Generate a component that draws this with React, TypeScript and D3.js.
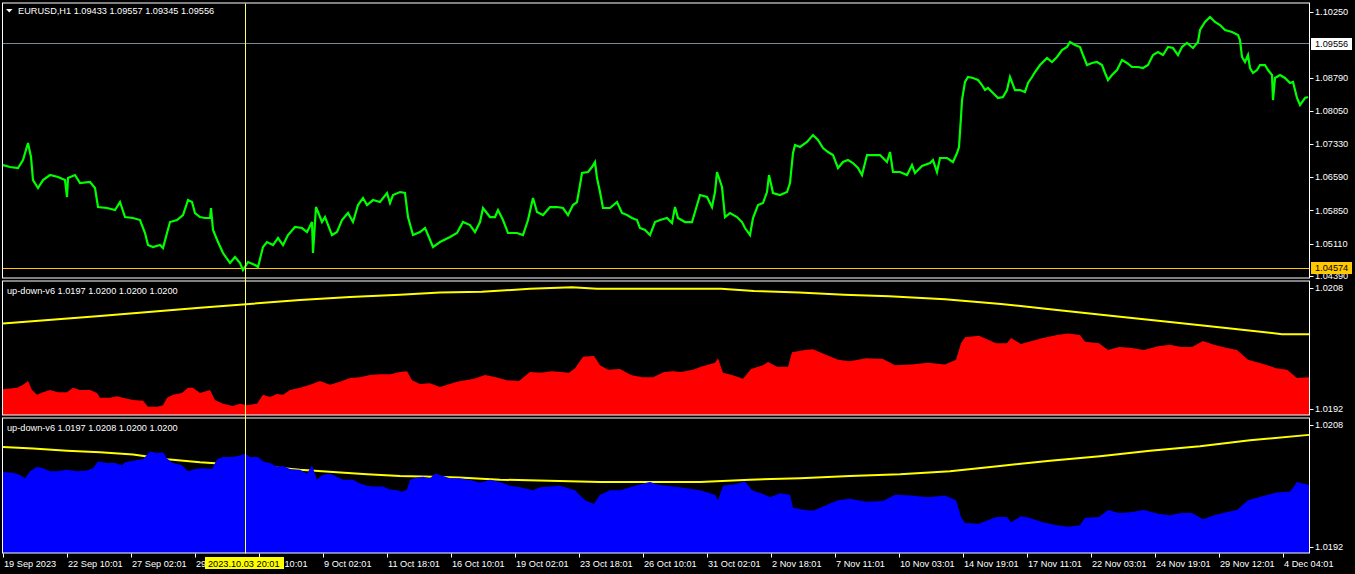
import React from "react";
import * as d3 from "d3";

// ---------- data ----------
const symbolTitle = "EURUSD,H1  1.09433 1.09557 1.09345 1.09556";
const indTitle1 = "up-down-v6 1.0197 1.0200 1.0200 1.0200";
const indTitle2 = "up-down-v6 1.0197 1.0208 1.0200 1.0200";

const priceTicks = ["1.10250", "1.08790", "1.08050", "1.07330", "1.06590", "1.05850", "1.05110", "1.04390"];
const indTicks = ["1.0208", "1.0192"];
const bidPrice = 1.09556;
const levelPrice = 1.04574;

const timeLabels = [
  "19 Sep 2023", "22 Sep 10:01", "27 Sep 02:01", "29 Sep 18:01", "4 Oct 10:01", "9 Oct 02:01",
  "11 Oct 18:01", "16 Oct 10:01", "19 Oct 02:01", "23 Oct 18:01", "26 Oct 10:01", "31 Oct 02:01",
  "2 Nov 18:01", "7 Nov 11:01", "10 Nov 03:01", "14 Nov 19:01", "17 Nov 11:01", "22 Nov 03:01",
  "24 Nov 19:01", "29 Nov 12:01", "4 Dec 04:01",
];
const barsPerLabel = 64;
const totalBars = 1306;
const crossBar = 242;
const crossLabel = "2023.10.03 20:01";

// [bar index, close]
const price: [number, number][] = [
  [0, 1.06853], [7, 1.06809], [15, 1.06787], [20, 1.06964], [25, 1.07342], [28, 1.07031], [30, 1.0652],
  [35, 1.06343], [40, 1.0652], [47, 1.06631], [55, 1.06587], [62, 1.0652], [64, 1.06143], [65, 1.06565],
  [72, 1.06631], [77, 1.06454], [87, 1.06476], [92, 1.06343], [95, 1.05921], [104, 1.05899], [112, 1.05854],
  [117, 1.06032], [122, 1.05699], [130, 1.05677], [137, 1.05632], [142, 1.05344], [145, 1.05077], [150, 1.05033],
  [157, 1.05077], [160, 1.05011], [164, 1.05344], [167, 1.05588], [174, 1.05632], [180, 1.05743], [185, 1.06076],
  [189, 1.06032], [192, 1.05788], [197, 1.05699], [202, 1.05677], [207, 1.05677], [208, 1.05899], [210, 1.0541],
  [215, 1.05144], [220, 1.049], [227, 1.04678], [232, 1.04811], [237, 1.04678], [240, 1.04522], [245, 1.047],
  [252, 1.04633], [255, 1.04589], [260, 1.05033], [264, 1.05144], [270, 1.05077], [275, 1.05233], [280, 1.05077],
  [285, 1.05299], [292, 1.05477], [299, 1.05455], [304, 1.05366], [309, 1.05588], [310, 1.049], [313, 1.05921],
  [319, 1.05588], [322, 1.05699], [329, 1.05299], [334, 1.05366], [339, 1.05632], [345, 1.05788], [350, 1.05588],
  [355, 1.05965], [360, 1.06121], [364, 1.05965], [370, 1.06076], [377, 1.06032], [384, 1.06232], [387, 1.0601],
  [390, 1.06187], [397, 1.06254], [402, 1.06232], [405, 1.05699], [410, 1.05299], [417, 1.05366], [422, 1.05455],
  [425, 1.05299], [430, 1.05033], [437, 1.05144], [447, 1.05255], [454, 1.05344], [460, 1.05588], [467, 1.05521],
  [472, 1.05366], [477, 1.05588], [480, 1.05899], [487, 1.05699], [492, 1.05699], [495, 1.05854], [500, 1.05632],
  [505, 1.05344], [514, 1.05344], [520, 1.05299], [525, 1.05632], [530, 1.06121], [534, 1.0581], [540, 1.05743],
  [547, 1.05921], [554, 1.05921], [560, 1.05899], [565, 1.05743], [570, 1.05965], [574, 1.06032], [577, 1.06409],
  [579, 1.06676], [585, 1.06698], [589, 1.06809], [592, 1.0692], [594, 1.06565], [597, 1.06254], [600, 1.05899],
  [607, 1.05899], [614, 1.06032], [619, 1.05788], [624, 1.05743], [629, 1.05677], [634, 1.05632], [637, 1.05455],
  [642, 1.0541], [647, 1.05299], [652, 1.05588], [657, 1.05632], [664, 1.05677], [669, 1.05566], [672, 1.05921],
  [675, 1.05677], [682, 1.05588], [689, 1.05588], [692, 1.0581], [697, 1.06187], [704, 1.06143], [709, 1.05921],
  [712, 1.06254], [714, 1.06698], [719, 1.06365], [722, 1.05699], [727, 1.05788], [734, 1.05699], [739, 1.05588],
  [742, 1.05455], [747, 1.05299], [750, 1.05677], [755, 1.05965], [760, 1.0601], [764, 1.06254], [766, 1.06631],
  [770, 1.06232], [777, 1.06187], [784, 1.06254], [787, 1.06454], [790, 1.0712], [792, 1.07297], [797, 1.07253],
  [804, 1.07364], [810, 1.07519], [815, 1.07408], [820, 1.07231], [825, 1.07142], [830, 1.07075], [835, 1.06787],
  [840, 1.0692], [845, 1.06964], [850, 1.06898], [855, 1.06787], [859, 1.06631], [864, 1.07075], [870, 1.07075],
  [877, 1.07075], [884, 1.0692], [887, 1.07142], [890, 1.06698], [897, 1.06698], [904, 1.06631], [909, 1.06853],
  [912, 1.06676], [919, 1.06831], [927, 1.06898], [930, 1.06964], [934, 1.06698], [937, 1.07009], [944, 1.07009],
  [950, 1.0692], [954, 1.0712], [956, 1.07253], [958, 1.07919], [959, 1.08296], [962, 1.08696], [965, 1.08807],
  [970, 1.08785], [975, 1.0874], [979, 1.08629], [982, 1.08518], [985, 1.08563], [990, 1.08452], [995, 1.08341],
  [1000, 1.08363], [1004, 1.08518], [1007, 1.08807], [1012, 1.08518], [1017, 1.08518], [1022, 1.08474],
  [1025, 1.08674], [1029, 1.08807], [1032, 1.08918], [1037, 1.09073], [1044, 1.09229], [1049, 1.0914],
  [1054, 1.09251], [1059, 1.09406], [1064, 1.09473], [1067, 1.09584], [1072, 1.09517], [1077, 1.09473],
  [1080, 1.09295], [1084, 1.09073], [1089, 1.09118], [1094, 1.0914], [1099, 1.09073], [1102, 1.08896],
  [1105, 1.0874], [1109, 1.08851], [1114, 1.08962], [1119, 1.09184], [1124, 1.09118], [1129, 1.09029],
  [1135, 1.09029], [1140, 1.09007], [1145, 1.09073], [1150, 1.09295], [1155, 1.09362], [1160, 1.09295],
  [1165, 1.09473], [1170, 1.09451], [1175, 1.09295], [1179, 1.09473], [1184, 1.09562], [1190, 1.09451],
  [1195, 1.09584], [1197, 1.0985], [1202, 1.10028], [1207, 1.10139], [1212, 1.10028], [1217, 1.09961],
  [1222, 1.0985], [1229, 1.09806], [1235, 1.09739], [1237, 1.09628], [1239, 1.09251], [1242, 1.0914],
  [1245, 1.09295], [1247, 1.09007], [1250, 1.08896], [1254, 1.08962], [1257, 1.09073], [1262, 1.09073],
  [1265, 1.08962], [1269, 1.08851], [1270, 1.08296], [1272, 1.08785], [1277, 1.08851], [1282, 1.08785],
  [1287, 1.08674], [1290, 1.08696], [1294, 1.08341], [1297, 1.08185], [1302, 1.08341], [1305, 1.08363],
];

const upHist: [number, number][] = [
  [0, 1.01946], [14, 1.01948], [20, 1.01952], [25, 1.01957], [29, 1.01945], [34, 1.01939], [40, 1.01942],
  [47, 1.01945], [55, 1.01942], [64, 1.01942], [70, 1.01948], [77, 1.01945], [87, 1.01945], [94, 1.01941],
  [97, 1.01935], [107, 1.01935], [114, 1.01937], [120, 1.01935], [130, 1.01932], [140, 1.01931], [145, 1.01923],
  [154, 1.01923], [160, 1.01925], [164, 1.01935], [170, 1.01939], [179, 1.01941], [185, 1.01948], [190, 1.01948],
  [197, 1.01941], [207, 1.01945], [212, 1.01932], [220, 1.01927], [230, 1.01924], [237, 1.01927], [244, 1.01925],
  [254, 1.01927], [260, 1.01939], [267, 1.01936], [274, 1.0194], [280, 1.01939], [287, 1.01945], [297, 1.01948],
  [307, 1.01952], [317, 1.01957], [327, 1.01952], [337, 1.01956], [347, 1.01961], [357, 1.01962], [367, 1.01965],
  [377, 1.01966], [387, 1.01966], [397, 1.01969], [404, 1.0197], [409, 1.01958], [417, 1.01953], [427, 1.01954],
  [437, 1.01949], [454, 1.01956], [471, 1.0196], [482, 1.01965], [493, 1.01962], [504, 1.01958], [516, 1.01957],
  [527, 1.01969], [538, 1.01968], [549, 1.0197], [566, 1.01968], [572, 1.01974], [580, 1.01989], [591, 1.0199],
  [597, 1.01978], [605, 1.01972], [617, 1.01973], [628, 1.01965], [639, 1.01962], [650, 1.01962], [661, 1.01969],
  [670, 1.0197], [678, 1.01969], [690, 1.01972], [698, 1.01976], [712, 1.01981], [715, 1.01987], [720, 1.01968],
  [729, 1.01965], [740, 1.0196], [748, 1.01973], [760, 1.01978], [765, 1.01982], [774, 1.01976], [785, 1.01976],
  [789, 1.01995], [802, 1.01998], [810, 1.01999], [824, 1.01991], [835, 1.01985], [847, 1.01983], [863, 1.01987],
  [880, 1.01986], [892, 1.01978], [908, 1.01979], [925, 1.01981], [942, 1.01979], [953, 1.01985], [958, 1.02007],
  [962, 1.02015], [976, 1.02017], [993, 1.02007], [1004, 1.02007], [1008, 1.02014], [1018, 1.02006],
  [1026, 1.02009], [1040, 1.02014], [1054, 1.02018], [1065, 1.0202], [1077, 1.02018], [1082, 1.02009],
  [1096, 1.02007], [1105, 1.01998], [1116, 1.02002], [1127, 1.02001], [1141, 1.01998], [1155, 1.02003],
  [1167, 1.02005], [1178, 1.02002], [1189, 1.02002], [1200, 1.0201], [1211, 1.02005], [1223, 1.02001],
  [1234, 1.01998], [1245, 1.01985], [1262, 1.01979], [1273, 1.01974], [1284, 1.01972], [1294, 1.01961],
  [1306, 1.01962],
];

const upSignal: [number, number][] = [
  [0, 1.02033], [97, 1.02043], [197, 1.02054], [297, 1.02064], [347, 1.02068], [397, 1.02071], [437, 1.02074],
  [479, 1.02075], [527, 1.02079], [569, 1.02081], [594, 1.02079], [718, 1.02079], [751, 1.02076], [796, 1.02074],
  [841, 1.02071], [886, 1.02069], [942, 1.02065], [998, 1.02059], [1054, 1.02051], [1110, 1.02043],
  [1167, 1.02035], [1223, 1.02027], [1279, 1.02019], [1306, 1.02019],
];

const downHist: [number, number][] = [
  [0, 1.02018], [10, 1.02017], [17, 1.02014], [22, 1.0201], [27, 1.02019], [34, 1.02025], [40, 1.02023],
  [47, 1.02019], [54, 1.02019], [64, 1.02021], [74, 1.02019], [84, 1.0202], [90, 1.02023], [95, 1.02032],
  [104, 1.0203], [112, 1.0203], [119, 1.02027], [122, 1.02031], [130, 1.02033], [140, 1.02035], [147, 1.02045],
  [154, 1.02043], [160, 1.02044], [164, 1.02036], [170, 1.0203], [179, 1.02027], [185, 1.02019], [192, 1.02022],
  [200, 1.02023], [209, 1.02022], [214, 1.02035], [220, 1.02038], [230, 1.02038], [237, 1.0204], [242, 1.02042],
  [247, 1.02038], [255, 1.02038], [260, 1.02032], [267, 1.0203], [274, 1.02025], [280, 1.02026], [287, 1.02022],
  [297, 1.02021], [304, 1.02016], [309, 1.02027], [314, 1.02008], [319, 1.02014], [327, 1.02016], [334, 1.02012],
  [340, 1.02008], [350, 1.02008], [357, 1.02003], [364, 1.02], [370, 1.01999], [380, 1.01999], [387, 1.01995],
  [394, 1.01994], [399, 1.01992], [404, 1.01995], [407, 1.02008], [414, 1.02011], [420, 1.02012], [427, 1.0201],
  [432, 1.02016], [437, 1.02014], [447, 1.0201], [456, 1.0201], [467, 1.02008], [477, 1.02004], [487, 1.02008],
  [497, 1.02005], [507, 1.02], [517, 1.01998], [530, 1.01994], [537, 1.01998], [557, 1.02], [572, 1.01994],
  [582, 1.01981], [591, 1.01976], [597, 1.01988], [607, 1.01994], [617, 1.01994], [637, 1.02002], [647, 1.02005],
  [657, 1.02001], [677, 1.01998], [697, 1.01994], [712, 1.01988], [715, 1.01981], [720, 1.02], [732, 1.02002],
  [742, 1.02006], [749, 1.01994], [760, 1.01989], [767, 1.01985], [777, 1.0199], [787, 1.01988], [790, 1.01971],
  [802, 1.01968], [810, 1.01967], [824, 1.01975], [835, 1.01981], [847, 1.01983], [863, 1.01979], [880, 1.0198],
  [892, 1.01988], [908, 1.01987], [925, 1.01985], [942, 1.01987], [953, 1.01981], [958, 1.01959], [962, 1.01951],
  [976, 1.0195], [993, 1.01959], [1004, 1.01959], [1008, 1.01952], [1018, 1.0196], [1026, 1.01958],
  [1040, 1.01952], [1054, 1.01948], [1065, 1.01946], [1077, 1.01948], [1082, 1.01958], [1096, 1.01959],
  [1105, 1.01968], [1116, 1.01964], [1127, 1.01965], [1141, 1.01968], [1155, 1.01963], [1167, 1.01961],
  [1178, 1.01964], [1189, 1.01964], [1200, 1.01956], [1211, 1.01961], [1223, 1.01965], [1234, 1.01968],
  [1245, 1.01981], [1262, 1.01987], [1273, 1.01991], [1287, 1.01992], [1294, 1.02005], [1306, 1.02001],
];

const downSignal: [number, number][] = [
  [0, 1.02051], [30, 1.02049], [64, 1.02046], [97, 1.02044], [130, 1.02041], [164, 1.02035], [197, 1.02031],
  [264, 1.02025], [297, 1.02021], [330, 1.02018], [364, 1.02015], [397, 1.02013], [430, 1.02012], [456, 1.02011],
  [497, 1.02008], [597, 1.02005], [697, 1.02005], [747, 1.02008], [797, 1.0201], [847, 1.02013], [897, 1.02015],
  [947, 1.02019], [997, 1.02026], [1047, 1.02033], [1097, 1.02039], [1147, 1.02046], [1197, 1.02052],
  [1247, 1.0206], [1306, 1.02067],
];

// ---------- layout ----------
const W = 1355;
const H = 574;
const L = 3;
const R = 1309.5;
const P0 = { top: 3.5, bottom: 278.5 };
const P1 = { top: 281.5, bottom: 415.5 };
const P2 = { top: 418.5, bottom: 553.5 };
const FONT = "'Liberation Sans', Arial, sans-serif";
const FS = 9.2;
const GOLD = "#FFC800";

export default function App() {
  const x = d3.scaleLinear().domain([0, totalBars]).range([L, 1309]);
  const yP = d3.scaleLinear().domain([1.0439, 1.1025]).range([276, 12]);
  const yU = d3.scaleLinear().domain([1.0192, 1.0208]).range([409, 288]);
  const yD = d3.scaleLinear().domain([1.0192, 1.0208]).range([546.5, 425]);

  const priceLine = d3.line<[number, number]>().x((d) => x(d[0])).y((d) => yP(d[1]));
  const upArea = d3
    .area<[number, number]>()
    .x((d) => x(d[0]))
    .y0(P1.bottom - 0.5)
    .y1((d) => yU(d[1]));
  const downArea = d3
    .area<[number, number]>()
    .x((d) => x(d[0]))
    .y0(P2.bottom - 0.5)
    .y1((d) => yD(d[1]));
  const upLine = d3.line<[number, number]>().x((d) => x(d[0])).y((d) => yU(d[1]));
  const downLine = d3.line<[number, number]>().x((d) => x(d[0])).y((d) => yD(d[1]));

  const cx = Math.round(x(crossBar)) + 0.5;
  const timeTicks = timeLabels.map((t, i) => ({ t, bar: i * barsPerLabel }));

  const label = (txt: string, yy: number, key: string) => (
    <g key={key}>
      <line x1={R} x2={R + 4} y1={Math.round(yy) + 0.5} y2={Math.round(yy) + 0.5} stroke="#fff" />
      <text x={1315} y={yy + 3.3} fill="#fff">
        {txt}
      </text>
    </g>
  );

  return (
    <div style={{ position: "fixed", left: 0, top: 0, width: W, height: H, background: "#000" }}>
      <svg width={W} height={H} style={{ display: "block" }} fontFamily={FONT} fontSize={FS}>
        <defs>
          <clipPath id="c0">
            <rect x={L} y={P0.top} width={R - L} height={P0.bottom - P0.top} />
          </clipPath>
          <clipPath id="c1">
            <rect x={L} y={P1.top} width={R - L} height={P1.bottom - P1.top} />
          </clipPath>
          <clipPath id="c2">
            <rect x={L} y={P2.top} width={R - L} height={P2.bottom - P2.top} />
          </clipPath>
          <clipPath id="cAxis">
            <rect x={0} y={554} width={205} height={20} />
            <rect x={284} y={554} width={W - 284} height={20} />
          </clipPath>
        </defs>
        <rect x={0} y={0} width={W} height={H} fill="#000" />

        {/* main panel */}
        <g clipPath="url(#c0)">
          <line x1={L} x2={R} y1={Math.round(yP(bidPrice)) + 0.5} y2={Math.round(yP(bidPrice)) + 0.5} stroke="#778899" />
          <line x1={L} x2={R} y1={Math.round(yP(levelPrice)) + 0.5} y2={Math.round(yP(levelPrice)) + 0.5} stroke={GOLD} />
          <path d={priceLine(price) || ""} fill="none" stroke="#00FF00" strokeWidth={2.2} strokeLinejoin="miter" />
        </g>

        {/* up panel */}
        <g clipPath="url(#c1)">
          <path d={upArea(upHist) || ""} fill="#FF0000" />
          <path d={upLine(upSignal) || ""} fill="none" stroke="#FFFF00" strokeWidth={2} />
        </g>

        {/* down panel */}
        <g clipPath="url(#c2)">
          <path d={downLine(downSignal) || ""} fill="none" stroke="#FFFF00" strokeWidth={2} />
          <path d={downArea(downHist) || ""} fill="#0000FF" />
        </g>

        {/* panel borders */}
        {[P0, P1, P2].map((p, i) => (
          <rect key={i} x={L - 0.5} y={p.top - 0.5} width={R - L + 0.5} height={p.bottom - p.top} fill="none" stroke="#fff" />
        ))}

        {/* crosshair */}
        <line x1={cx} x2={cx} y1={P0.top} y2={P2.bottom} stroke="#FFFF66" />

        {/* titles */}
        <path d="M6,9 L12.5,9 L9.25,12.5 Z" fill="#fff" />
        <text x={18} y={14} fill="#fff">
          {symbolTitle}
        </text>
        <text x={7} y={294} fill="#fff">
          {indTitle1}
        </text>
        <text x={7} y={431} fill="#fff">
          {indTitle2}
        </text>

        {/* price axis */}
        {priceTicks.map((t) => label(t, yP(+t), "p" + t))}
        <g>
          <rect x={1311} y={38} width={41} height={12} fill="#fff" />
          <text x={1315} y={yP(bidPrice) + 3.3} fill="#000">
            {bidPrice.toFixed(5)}
          </text>
          <rect x={1311} y={Math.round(yP(levelPrice)) - 6} width={41} height={12} fill={GOLD} />
          <text x={1315} y={yP(levelPrice) + 3.3} fill="#000">
            {levelPrice.toFixed(5)}
          </text>
        </g>
        {indTicks.map((t) => label(t, yU(+t), "u" + t))}
        {indTicks.map((t) => label(t, yD(+t), "d" + t))}

        {/* time axis */}
        {timeTicks.map(({ t, bar }) => {
          const xx = Math.round(x(bar)) + 0.5;
          return (
            <g key={t}>
              <line x1={xx} x2={xx} y1={P2.bottom} y2={P2.bottom + 4} stroke="#fff" />
              <text x={xx + 0.5} y={566.5} fill="#fff" clipPath="url(#cAxis)">
                {t}
              </text>
            </g>
          );
        })}
        <rect x={205} y={557} width={79} height={12} fill="#FFFF00" />
        <text x={208} y={566.5} fill="#000">
          {crossLabel}
        </text>
      </svg>
    </div>
  );
}
